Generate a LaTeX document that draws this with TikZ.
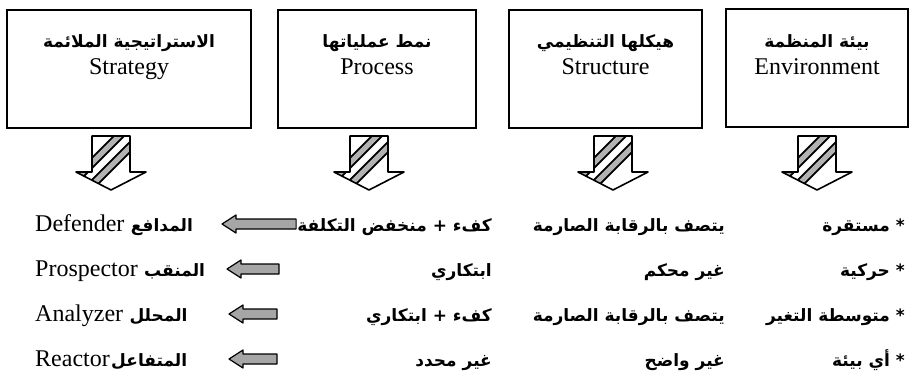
\documentclass[tikz,border=0pt]{standalone}
\usepackage{fontspec}
\setmainfont{Liberation Serif}
\newfontfamily\arabicfont[Script=Arabic]{DejaVu Sans}
\TeXXeTstate=1
\usetikzlibrary{calc}

\tikzset{
  hdrbox/.style={draw, line width=1.3pt, inner sep=0pt, minimum height=118pt},
  entext/.style={font=\fontsize{24}{28}\selectfont, inner sep=0pt},
  artext/.style={font=\fontsize{17}{20}\selectfont\arabicfont\bfseries, inner sep=0pt},
  pics/hatchdown/.style={code={
    \begin{scope}
      \clip (-19,0) -- (19,0) -- (19,36) -- (35,36) -- (0,54) -- (-35,36) -- (-19,36) -- cycle;
      \fill[white] (-40,-5) rectangle (40,60);
      \foreach \o in {-12,10} {
        \draw[line width=9pt] (-40+\o,60) -- (40+\o,-20);
        \draw[line width=5pt, black!30] (-40+\o,60) -- (40+\o,-20);
      }
    \end{scope}
    \draw[line width=1.6pt, line join=round]
      (-19,0) -- (19,0) -- (19,36) -- (35,36) -- (0,54) -- (-35,36) -- (-19,36) -- cycle;
  }},
  blockleft/.style={draw, line width=1.2pt, fill=black!35, line join=round,
    to path={let \p1=(\tikztostart), \p2=(\tikztotarget) in
      (\x1,\y1+5pt) -- (\x2+14pt,\y1+5pt) -- (\x2+14pt,\y1+9pt) -- (\x2,\y1)
      -- (\x2+14pt,\y1-9pt) -- (\x2+14pt,\y1-5pt) -- (\x1,\y1-5pt) -- cycle}}
}

\begin{document}
\begin{tikzpicture}[x=1pt,y=-1pt]
  \useasboundingbox (0,0) rectangle (913,386);
  \fill[white] (0,0) rectangle (913,386);

  % header boxes
  \node[hdrbox, minimum width=244pt] (bstr) at (129,69) {};
  \node[hdrbox, minimum width=198pt] (bpro) at (377,69) {};
  \node[hdrbox, minimum width=193pt] (bstu) at (605.5,69) {};
  \node[hdrbox, minimum width=182pt] (benv) at (817,68) {};

  \node[artext, anchor=base] (bstrA) at (129,47) {\beginR الاستراتيجية الملائمة\endR};
  \node[entext, anchor=base] (bstrE) at (129,74) {Strategy};
  \node[artext, anchor=base] (bproA) at (377,47) {\beginR نمط عملياتها\endR};
  \node[entext, anchor=base] (bproE) at (377,74) {Process};
  \node[artext, anchor=base] (bstuA) at (605.5,47) {\beginR هيكلها التنظيمي\endR};
  \node[entext, anchor=base] (bstuE) at (605.5,74) {Structure};
  \node[artext, anchor=base] (benvA) at (817,47) {\beginR بيئة المنظمة\endR};
  \node[entext, anchor=base] (benvE) at (817,74) {Environment};

  % hatched down arrows
  \pic at (111,136) {hatchdown};
  \pic at (369,136) {hatchdown};
  \pic at (613,136) {hatchdown};
  \pic at (817,136) {hatchdown};

  % row 1
  \node[entext, anchor=base west] (en1) at (35,231) {Defender};
  \node[artext, anchor=base west] (nm1) at ($(en1.base east)+(6,0)$) {\beginR المدافع\endR};
  \node[artext, anchor=base east] (pr1) at (492,231) {\beginR كفء + منخفض التكلفة\endR};
  \node[artext, anchor=base east] (st1) at (725,231) {\beginR يتصف بالرقابة الصارمة\endR};
  \node[artext, anchor=base east] (ev1) at (905,231) {\beginR * مستقرة\endR};
  \coordinate (h1) at (222,224);
  \draw[blockleft] ($(pr1.base west)+(-1,-7)$) to (h1);

  % row 2
  \node[entext, anchor=base west] (en2) at (35,276) {Prospector};
  \node[artext, anchor=base west] (nm2) at ($(en2.base east)+(6,0)$) {\beginR المنقب\endR};
  \node[artext, anchor=base east] (pr2) at (492,276) {\beginR ابتكاري\endR};
  \node[artext, anchor=base east] (st2) at (725,276) {\beginR غير محكم\endR};
  \node[artext, anchor=base east] (ev2) at (905,276) {\beginR * حركية\endR};
  \coordinate (t2) at (279,269);
  \coordinate (h2) at (227,269);
  \draw[blockleft] (t2) to (h2);

  % row 3
  \node[entext, anchor=base west] (en3) at (35,321) {Analyzer};
  \node[artext, anchor=base west] (nm3) at ($(en3.base east)+(6,0)$) {\beginR المحلل\endR};
  \node[artext, anchor=base east] (pr3) at (492,321) {\beginR كفء + ابتكاري\endR};
  \node[artext, anchor=base east] (st3) at (725,321) {\beginR يتصف بالرقابة الصارمة\endR};
  \node[artext, anchor=base east] (ev3) at (905,321) {\beginR * متوسطة التغير\endR};
  \coordinate (t3) at (277,314);
  \coordinate (h3) at (229,314);
  \draw[blockleft] (t3) to (h3);

  % row 4
  \node[entext, anchor=base west] (en4) at (35,366) {Reactor};
  \node[artext, anchor=base west] (nm4) at ($(en4.base east)+(1,0)$) {\beginR المتفاعل\endR};
  \node[artext, anchor=base east] (pr4) at (492,366) {\beginR غير محدد\endR};
  \node[artext, anchor=base east] (st4) at (725,366) {\beginR غير واضح\endR};
  \node[artext, anchor=base east] (ev4) at (905,366) {\beginR * أي بيئة\endR};
  \coordinate (t4) at (277,359);
  \coordinate (h4) at (229,359);
  \draw[blockleft] (t4) to (h4);
\end{tikzpicture}
\end{document}
